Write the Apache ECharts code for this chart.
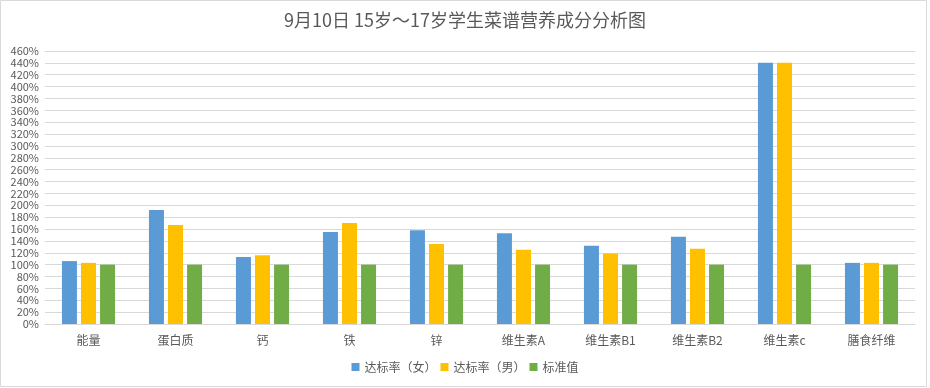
<!DOCTYPE html>
<html><head><meta charset="utf-8">
<script src="https://cdn.jsdelivr.net/npm/echarts@6/dist/echarts.min.js"></script>
<style>html,body{margin:0;padding:0;background:#fff}#c{width:930px;height:388px}</style>
</head><body><div id="c"></div>
<script>
const categories = ['能量','蛋白质','钙','铁','锌','维生素A','维生素B1','维生素B2','维生素c','膳食纤维'];
const femaleRate = [106, 192, 113, 155, 158, 153, 132, 147, 440, 103];
const maleRate   = [103, 167, 116, 170, 135, 125, 119, 127, 440, 103];
const standard   = [100, 100, 100, 100, 100, 100, 100, 100, 100, 100];
const seriesNames = ['达标率（女）','达标率（男）','标准值'];
const titleText = '9月10日 15岁～17岁学生菜谱营养成分分析图';

const font = '"Noto Sans CJK SC", "Microsoft YaHei", sans-serif';
const chart = echarts.init(document.getElementById('c'));
chart.setOption({
  animation: false,
  textStyle: {fontFamily: font},
  graphic: [{type:'rect', shape:{x:0.5,y:0.5,width:926,height:386}, style:{fill:'none', stroke:'#d9d9d9', lineWidth:1}}],
  title: {text: titleText, left: 'center', top: 6, textStyle: {fontSize: 18, fontWeight: 'normal', color: '#595959', fontFamily: font}},
  legend: {data: seriesNames, bottom: 10, left: 'center', itemWidth: 8, itemHeight: 8, itemGap: 4, icon: 'rect',
    textStyle: {fontSize: 12, color: '#595959', fontFamily: font}},
  grid: {left: 45, right: 15, top: 51, bottom: 64, containLabel: false},
  xAxis: {type: 'category', data: categories,
    axisLine: {lineStyle: {color: '#d9d9d9'}}, axisTick: {show: false},
    axisLabel: {fontSize: 12, color: '#595959', margin: 10, fontFamily: font}},
  yAxis: {type: 'value', min: 0, max: 460, interval: 20,
    axisLabel: {formatter: '{value}%', fontSize: 11, color: '#595959', margin: 6, fontFamily: font},
    axisLine: {show: false}, axisTick: {show: false},
    splitLine: {lineStyle: {color: '#d9d9d9'}}},
  series: [
    {name: seriesNames[0], type: 'bar', data: femaleRate, barWidth: 15, barGap: '27%', itemStyle: {color: '#5B9BD5'}},
    {name: seriesNames[1], type: 'bar', data: maleRate, barWidth: 15, barGap: '27%', itemStyle: {color: '#FFC000'}},
    {name: seriesNames[2], type: 'bar', data: standard, barWidth: 15, barGap: '27%', itemStyle: {color: '#70AD47'}}
  ]
});
</script></body></html>
